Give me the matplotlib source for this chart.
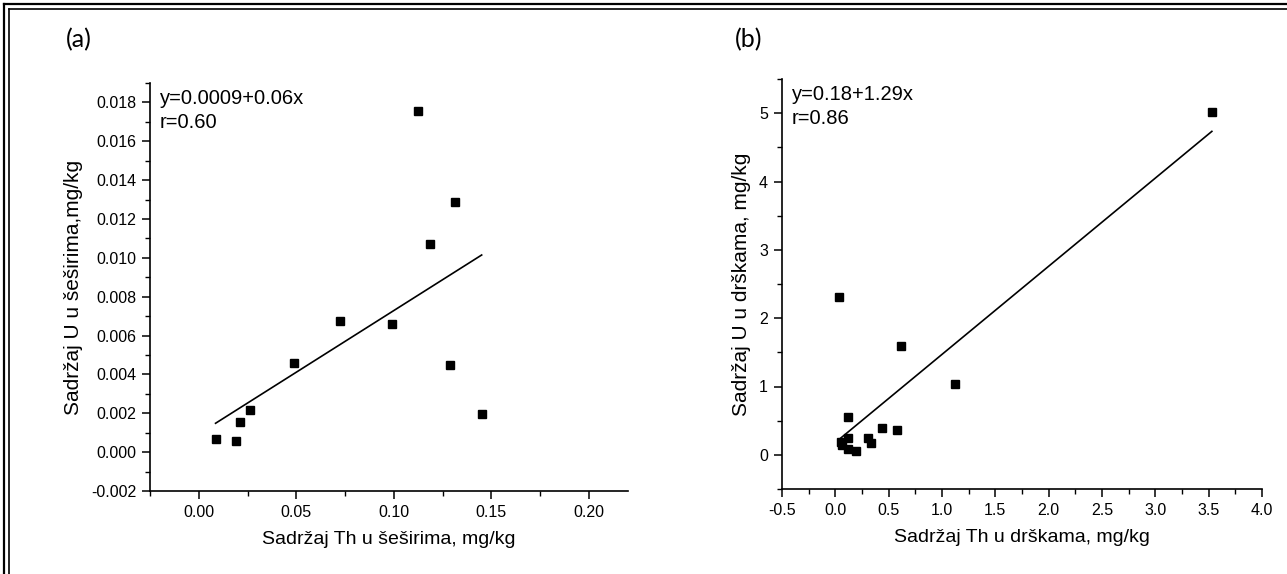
import matplotlib

matplotlib.use("Agg")

import matplotlib.pyplot as plt  # noqa: E402
import numpy as np  # noqa: E402
from matplotlib.lines import Line2D  # noqa: E402
from matplotlib.ticker import MultipleLocator  # noqa: E402

# panel (a): caps
th_caps = [0.0086, 0.0189, 0.0210, 0.0263, 0.0486, 0.0725, 0.0988, 0.1122, 0.1186, 0.1289, 0.1314, 0.1450]
u_caps = [0.00068, 0.00058, 0.00154, 0.00217, 0.00460, 0.00674, 0.00660, 0.01758, 0.01070, 0.00447, 0.01288, 0.00198]
fit_caps = (0.00094, 0.0635)  # intercept, slope
text_caps = "y=0.0009+0.06x\nr=0.60"

# panel (b): stems
th_stems = [3.53, 0.03, 0.62, 1.12, 0.12, 0.44, 0.58, 0.12, 0.31, 0.33, 0.05, 0.06, 0.12, 0.19]
u_stems = [5.02, 2.31, 1.59, 1.04, 0.55, 0.40, 0.36, 0.25, 0.24, 0.18, 0.19, 0.14, 0.09, 0.05]
fit_stems = (0.18, 1.29)
text_stems = "y=0.18+1.29x\nr=0.86"

W, H = 1287, 574
FONT = ["Liberation Sans", "DejaVu Sans"]
plt.rcParams["font.family"] = FONT


def draw_panel(ax, xs, ys, fit, note, xlim, ylim, xmaj, xmin, ymaj, ymin, xlabel, ylabel, xfmt, yfmt):
    ax.plot(xs, ys, "s", color="black", markersize=6.2, linestyle="none")
    x0, x1 = min(xs), max(xs)
    line_x = np.array([x0, x1])
    ax.plot(line_x, fit[0] + fit[1] * line_x, color="black", linewidth=1.2)
    ax.set_xlim(*xlim)
    ax.set_ylim(*ylim)
    ax.xaxis.set_major_locator(MultipleLocator(xmaj))
    ax.xaxis.set_minor_locator(MultipleLocator(xmin))
    ax.yaxis.set_major_locator(MultipleLocator(ymaj))
    ax.yaxis.set_minor_locator(MultipleLocator(ymin))
    ax.xaxis.set_major_formatter(xfmt)
    ax.yaxis.set_major_formatter(yfmt)
    for side in ("top", "right"):
        ax.spines[side].set_visible(False)
    for side in ("left", "bottom"):
        ax.spines[side].set_linewidth(1.2)
    ax.tick_params(which="major", direction="out", length=6, width=1.1, labelsize=11.5, pad=4)
    ax.tick_params(which="minor", direction="out", length=3.5, width=1.0)
    ax.set_xlabel(xlabel, fontsize=14, labelpad=8)
    ax.set_ylabel(ylabel, fontsize=15, labelpad=6)
    ax.text(0.02, 0.985, note, transform=ax.transAxes, fontsize=14.5, va="top", ha="left", linespacing=1.3)


fig = plt.figure(figsize=(W / 100, H / 100), dpi=100)
ax_a = fig.add_axes([150 / W, 1 - 491 / H, (628 - 150) / W, (491 - 83) / H])
ax_b = fig.add_axes([782 / W, 1 - 489 / H, (1262 - 782) / W, (489 - 79) / H])

draw_panel(
    ax_a, th_caps, u_caps, fit_caps, text_caps,
    (-0.025, 0.22), (-0.002, 0.019), 0.05, 0.025, 0.002, 0.001,
    "Sadržaj Th u šeširima, mg/kg", "Sadržaj U u šeširima,mg/kg",
    lambda v, p: f"{v:.2f}", lambda v, p: f"{v:.3f}",
)
draw_panel(
    ax_b, th_stems, u_stems, fit_stems, text_stems,
    (-0.5, 4.0), (-0.5, 5.5), 0.5, 0.25, 1, 0.5,
    "Sadržaj Th u drškama, mg/kg", "Sadržaj U u drškama, mg/kg",
    lambda v, p: f"{v:.1f}", lambda v, p: f"{v:.0f}",
)

fig.text(66 / W, 1 - 40 / H, "(a)", fontsize=18, family=["Lato", "DejaVu Sans"], va="center", ha="left")
fig.text(735 / W, 1 - 40 / H, "(b)", fontsize=18, family=["Lato", "DejaVu Sans"], va="center", ha="left")

# double frame (right and bottom sides fall outside the picture)
for inset, lw in ((4, 1.6), (9, 1.2)):
    xi, yi = inset / W, 1 - inset / H
    fig.add_artist(Line2D([xi, 1.0], [yi, yi], transform=fig.transFigure, color="black", linewidth=lw))
    fig.add_artist(Line2D([xi, xi], [yi, 0.0], transform=fig.transFigure, color="black", linewidth=lw))

fig.savefig("out.png", dpi=100)
plt.close(fig)
